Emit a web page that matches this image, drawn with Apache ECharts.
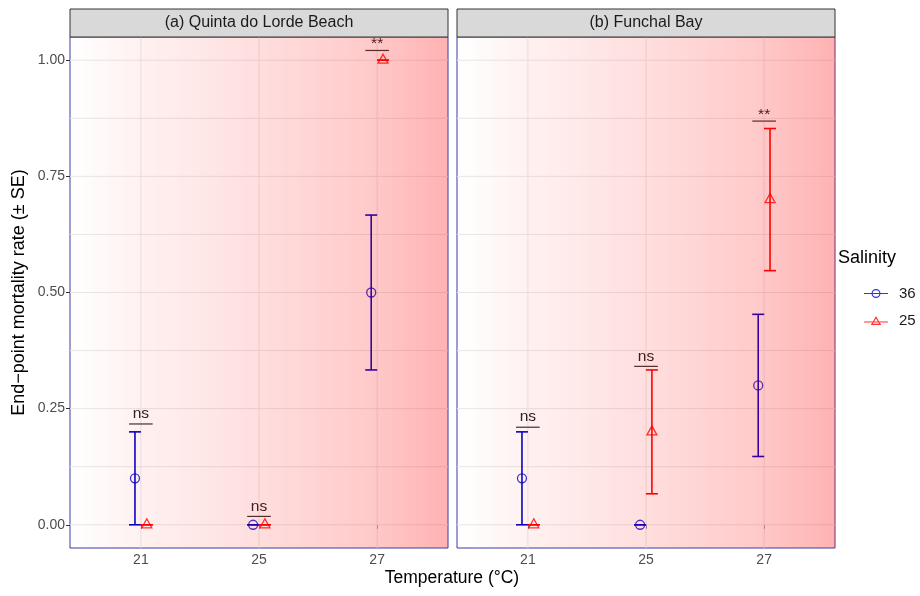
<!DOCTYPE html>
<html>
<head>
<meta charset="utf-8">
<script src="https://cdn.jsdelivr.net/npm/echarts@6/dist/echarts.min.js"></script>
<style>html,body{margin:0;padding:0;background:#fff}#c{width:920px;height:596px}</style>
</head>
<body>
<div id="c"></div>
<script>
// ---- data ----
const temps = ['21', '25', '27'];
const tempIdx = [1, 2, 3];
const salinity = ['36', '25'];
const panelTitles = ['(a) Quinta do Lorde Beach', '(b) Funchal Bay'];
const yTicks = [0, 0.25, 0.5, 0.75, 1.0];
const yGrid = [0, 0.125, 0.25, 0.375, 0.5, 0.625, 0.75, 0.875, 1.0];

// Panel (a) Quinta do Lorde Beach
const quintaMean36 = [0.10, 0.00, 0.50];
const quintaSE36   = [0.10, 0.00, 0.1667];
const quintaMean25 = [0.00, 0.00, 1.00];
const quintaSE25   = [0.00, 0.00, 0.00];
const quintaSigLabel = ['ns', 'ns', '**'];
const quintaSigY     = [0.217, 0.018, 1.021];

// Panel (b) Funchal Bay
const funchalMean36 = [0.10, 0.00, 0.30];
const funchalSE36   = [0.10, 0.00, 0.153];
const funchalMean25 = [0.00, 0.20, 0.70];
const funchalSE25   = [0.00, 0.1333, 0.153];
const funchalSigLabel = ['ns', 'ns', '**'];
const funchalSigY     = [0.21, 0.341, 0.869];

// ---- styling ----
const FONT = '"Liberation Sans", Arial, Helvetica, sans-serif';
const BLUE = '#0000cd';
const RED = '#ff0000';
const DODGE = 0.05;
const gridPos = [{left: 70, top: 37, width: 378, height: 511}, {left: 457, top: 37, width: 378, height: 511}];

const chart = echarts.init(document.getElementById('c'), null, {renderer: 'canvas'});

function errRender(params, api) {
  const x = api.value(0), m = api.value(1), s = api.value(2);
  const top = api.coord([x, m + s]);
  const bot = api.coord([x, m - s]);
  const hw = 6;
  const st = {stroke: api.visual('color'), lineWidth: 1.6};
  return {type: 'group', children: [
    {type: 'line', shape: {x1: top[0], y1: top[1], x2: bot[0], y2: bot[1]}, style: st},
    {type: 'line', shape: {x1: top[0] - hw, y1: top[1], x2: top[0] + hw, y2: top[1]}, style: st},
    {type: 'line', shape: {x1: bot[0] - hw, y1: bot[1], x2: bot[0] + hw, y2: bot[1]}, style: st}
  ]};
}
function sigRenderFactory(labels) {
  return function (params, api) {
    const x = api.value(0), y = api.value(1);
    const a = api.coord([x - 0.1, y]);
    const b = api.coord([x + 0.1, y]);
    const lab = labels[params.dataIndex];
    return {type: 'group', children: [
      {type: 'line', shape: {x1: a[0], y1: a[1], x2: b[0], y2: b[1]}, style: {stroke: '#333', lineWidth: 1.2}},
      {type: 'text', x: (a[0] + b[0]) / 2, y: a[1] + (lab === 'ns' ? -2 : 1.5),
        style: {text: lab, align: 'center', verticalAlign: 'bottom', fontSize: 15.5, fontFamily: FONT, fill: '#222'}}
    ]};
  };
}
function gridRender(params, api) {
  const cs = params.coordSys;
  const kind = api.value(0), v = api.value(1);
  if (kind === 0) {
    const py = api.coord([1, v])[1];
    return {type: 'line', shape: {x1: cs.x, y1: py, x2: cs.x + cs.width, y2: py}, style: {stroke: '#e8e8e8', lineWidth: 1}};
  }
  const px = api.coord([v, 0])[0];
  return {type: 'line', shape: {x1: px, y1: cs.y, x2: px, y2: cs.y + cs.height}, style: {stroke: '#e8e8e8', lineWidth: 1}};
}
function overlayRender(params, api) {
  const cs = params.coordSys;
  return {type: 'rect', shape: {x: cs.x, y: cs.y, width: cs.width, height: cs.height},
    style: {fill: {type: 'linear', x: 0, y: 0, x2: 1, y2: 0, colorStops: [
      {offset: 0, color: 'rgba(255,0,0,0.0)'},
      {offset: 0.2, color: 'rgba(255,0,0,0.06)'},
      {offset: 0.5, color: 'rgba(255,0,0,0.13)'},
      {offset: 0.8, color: 'rgba(255,0,0,0.21)'},
      {offset: 1, color: 'rgba(255,0,0,0.30)'}
    ]}}};
}

const gridData = yGrid.map(v => [0, v]).concat(tempIdx.map(v => [1, v]));
const panelsData = [
  {m36: quintaMean36, s36: quintaSE36, m25: quintaMean25, s25: quintaSE25, sl: quintaSigLabel, sy: quintaSigY},
  {m36: funchalMean36, s36: funchalSE36, m25: funchalMean25, s25: funchalSE25, sl: funchalSigLabel, sy: funchalSigY}
];

const series = [];
panelsData.forEach((p, k) => {
  const ax = {xAxisIndex: k, yAxisIndex: k};
  series.push(Object.assign({type: 'custom', renderItem: gridRender, data: gridData, z: 1, silent: true, clip: false}, ax));
  series.push(Object.assign({type: 'custom', renderItem: errRender, z: 2, silent: true,
    itemStyle: {color: BLUE}, data: p.m36.map((m, i) => [tempIdx[i] - DODGE, m, p.s36[i]])}, ax));
  series.push(Object.assign({type: 'custom', renderItem: errRender, z: 2, silent: true,
    itemStyle: {color: RED}, data: p.m25.map((m, i) => [tempIdx[i] + DODGE, m, p.s25[i]])}, ax));
  series.push(Object.assign({type: 'scatter', name: '36', symbol: 'circle', symbolSize: 9, z: 3,
    itemStyle: {color: 'rgba(0,0,0,0)', borderColor: BLUE, borderWidth: 1.3},
    data: p.m36.map((m, i) => [tempIdx[i] - DODGE, m])}, ax));
  series.push(Object.assign({type: 'scatter', name: '25', symbol: 'triangle', symbolSize: [10, 9], symbolOffset: [0, -1.5], z: 3,
    itemStyle: {color: 'rgba(0,0,0,0)', borderColor: RED, borderWidth: 1.3},
    data: p.m25.map((m, i) => [tempIdx[i] + DODGE, m])}, ax));
  series.push(Object.assign({type: 'custom', renderItem: sigRenderFactory(p.sl), z: 3, silent: true, clip: false,
    data: p.sy.map((y, i) => [tempIdx[i], y])}, ax));
  series.push(Object.assign({type: 'custom', renderItem: overlayRender, z: 10, silent: true, data: [[2, 0.5]]}, ax));
});

const xAxes = [0, 1].map(k => ({
  type: 'value', gridIndex: k, min: 0.4, max: 3.6,
  axisLine: {show: false}, splitLine: {show: false},
  axisTick: {show: true, length: 4, lineStyle: {color: '#333', width: 1}, customValues: tempIdx},
  axisLabel: {show: true, customValues: tempIdx, formatter: v => temps[Math.round(v) - 1],
    color: '#4d4d4d', fontSize: 14, fontFamily: FONT, margin: 5}
}));
const yAxes = [0, 1].map(k => ({
  type: 'value', gridIndex: k, min: -0.05, max: 1.05,
  axisLine: {show: false}, splitLine: {show: false},
  axisTick: {show: k === 0, length: 4, lineStyle: {color: '#333', width: 1}, customValues: yTicks},
  axisLabel: {show: k === 0, customValues: yTicks, formatter: v => v.toFixed(2),
    color: '#4d4d4d', fontSize: 14, fontFamily: FONT, margin: 5},
  name: k === 0 ? 'End\u2212point mortality rate (\u00b1 SE)' : '',
  nameLocation: 'middle', nameRotate: 90, nameGap: 42,
  nameTextStyle: {fontSize: 18, fontFamily: FONT, color: '#000'}
}));

const circleIcon = 'path://M0 3.9H7.6V5.1H0Z M16.5 4.5A4.5 4.5 0 1 1 7.5 4.5A4.5 4.5 0 1 1 16.5 4.5Z M15.3 4.5A3.3 3.3 0 1 0 8.7 4.5A3.3 3.3 0 1 0 15.3 4.5Z M8.6 3.9H15.4V5.1H8.6Z M16.4 3.9H24V5.1H16.4Z';
const triIcon = 'path://M12 0L17 9L7 9Z M12 2.4L8.9 7.8L15.1 7.8Z M0 5.4H8.8V6.6H0Z M9.8 5.4H14.2V6.6H9.8Z M15.2 5.4H24V6.6H15.2Z M7 7.8H17V9H7Z';

const graphics = [];
panelTitles.forEach((t, k) => {
  const g = gridPos[k];
  graphics.push({type: 'rect', shape: {x: g.left, y: 9, width: g.width, height: 28},
    style: {fill: '#d9d9d9', stroke: '#333', lineWidth: 1}, z: 5});
  graphics.push({type: 'text', x: g.left + g.width / 2, y: 23, z: 6,
    style: {text: t, align: 'center', verticalAlign: 'middle', fontSize: 16, fontFamily: FONT, fill: '#1a1a1a'}});
});
graphics.push({type: 'text', x: 452, y: 578, style: {text: 'Temperature (\u00b0C)', align: 'center', verticalAlign: 'middle', fontSize: 17.5, fontFamily: FONT, fill: '#000'}});
graphics.push({type: 'text', x: 838, y: 258, style: {text: 'Salinity', align: 'left', verticalAlign: 'middle', fontSize: 18, fontFamily: FONT, fill: '#000'}});

chart.setOption({
  animation: false,
  backgroundColor: '#fff',
  grid: gridPos.map(g => Object.assign({show: true, borderColor: '#3b3ba0', borderWidth: 1, backgroundColor: '#fff'}, g)),
  xAxis: xAxes,
  yAxis: yAxes,
  legend: {
    orient: 'vertical', left: 859, top: 281, itemWidth: 24, itemHeight: 9, itemGap: 12,
    selectedMode: false,
    textStyle: {fontSize: 15, fontFamily: FONT, color: '#1a1a1a', padding: [0, 0, 0, 6]},
    data: [
      {name: '36', icon: circleIcon, itemStyle: {color: BLUE, borderWidth: 0}},
      {name: '25', icon: triIcon, itemStyle: {color: RED, borderWidth: 0}}
    ]
  },
  graphic: graphics,
  series: series
});
</script>
</body>
</html>
